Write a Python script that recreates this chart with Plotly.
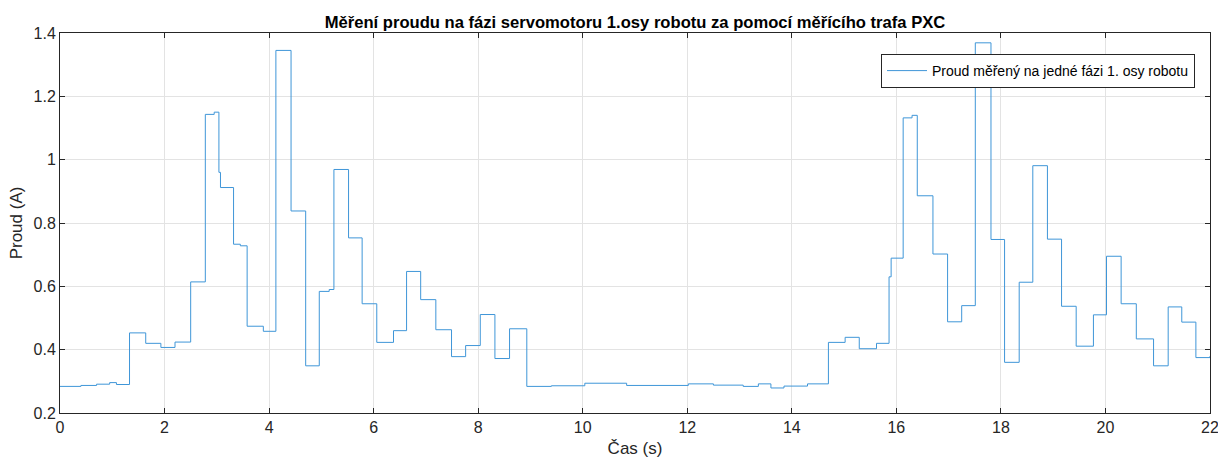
import plotly.graph_objects as go

# Step-change start times (s) and current levels (A)
cas = [0.00, 0.40, 0.70, 0.95, 1.08, 1.33, 1.64, 1.93, 2.20, 2.50,
       2.78, 2.95, 3.04, 3.07, 3.32, 3.45, 3.58, 3.89, 4.13, 4.42,
       4.70, 4.96, 5.15, 5.24, 5.52, 5.78, 6.06, 6.38, 6.63, 6.90,
       7.19, 7.49, 7.76, 8.04, 8.32, 8.60, 8.93, 9.40, 10.04, 10.84,
       12.02, 12.50, 13.07, 13.36, 13.60, 13.85, 14.30, 14.70, 15.02, 15.29,
       15.62, 15.86, 15.90, 16.13, 16.30, 16.40, 16.70, 16.98, 17.25, 17.51,
       17.81, 18.07, 18.35, 18.61, 18.89, 19.16, 19.44, 19.77, 20.02, 20.30,
       20.59, 20.92, 21.20, 21.46, 21.73, 22.00]
proud = [0.284, 0.287, 0.291, 0.296, 0.290, 0.453, 0.420, 0.407, 0.424, 0.614,
         1.143, 1.150, 0.960, 0.912, 0.733, 0.728, 0.474, 0.458, 1.345, 0.838,
         0.349, 0.584, 0.590, 0.969, 0.753, 0.545, 0.423, 0.460, 0.647, 0.558,
         0.463, 0.378, 0.413, 0.511, 0.372, 0.466, 0.284, 0.286, 0.294, 0.287,
         0.292, 0.288, 0.284, 0.292, 0.279, 0.285, 0.292, 0.423, 0.439, 0.403,
         0.420, 0.630, 0.689, 1.132, 1.140, 0.886, 0.702, 0.488, 0.539, 1.369,
         0.748, 0.360, 0.613, 0.981, 0.749, 0.537, 0.411, 0.510, 0.695, 0.545,
         0.434, 0.349, 0.535, 0.487, 0.375, 0.380]

x_ticks = [0, 2, 4, 6, 8, 10, 12, 14, 16, 18, 20, 22]
y_ticks = [0.2, 0.4, 0.6, 0.8, 1.0, 1.2, 1.4]
y_tick_labels = ["0.2", "0.4", "0.6", "0.8", "1", "1.2", "1.4"]

FONT = "Liberation Sans, Arial, Helvetica, sans-serif"
AX = "#262626"

fig = go.Figure()
fig.add_trace(go.Scatter(
    x=cas, y=proud, mode="lines", line_shape="hv",
    line=dict(color="#3f96d8", width=1),
    name="Proud měřený na jedné fázi 1. osy robotu",
))

axis_common = dict(
    showline=True, linecolor=AX, linewidth=1, mirror="ticks",
    ticks="inside", ticklen=5, tickcolor=AX,
    showgrid=True, gridcolor="#e3e3e3", gridwidth=1,
    zeroline=False, automargin=False, ticklabeloverflow="allow",
    tickfont=dict(family=FONT, size=16, color=AX),
)

fig.update_layout(
    width=1218, height=458,
    margin=dict(l=60, r=8, t=33, b=45),
    paper_bgcolor="white", plot_bgcolor="white",
    font=dict(family=FONT, color=AX),
    title=dict(
        text="<b>Měření proudu na fázi servomotoru 1.osy robotu za pomocí měřícího trafa PXC</b>",
        x=(60 + 1210) / 2 / 1218, xanchor="center",
        y=1 - 22 / 458, yanchor="middle",
        font=dict(family=FONT, size=16.6, color="black"),
    ),
    xaxis=dict(range=[0, 22], tickvals=x_ticks,
               title=dict(text="Čas (s)", font=dict(family=FONT, size=17, color=AX), standoff=8),
               **axis_common),
    yaxis=dict(range=[0.2, 1.4], tickvals=y_ticks, ticktext=y_tick_labels,
               title=dict(text="Proud (A)", font=dict(family=FONT, size=17, color=AX), standoff=6),
               **axis_common),
    showlegend=True,
    legend=dict(
        x=(1195 - 60) / 1150, xanchor="right",
        y=(413 - 54) / 380, yanchor="top",
        bgcolor="white", bordercolor=AX, borderwidth=1,
        font=dict(family=FONT, size=14, color="black"),
        tracegroupgap=0, itemwidth=40,
    ),
)

fig.write_html("out.html")
